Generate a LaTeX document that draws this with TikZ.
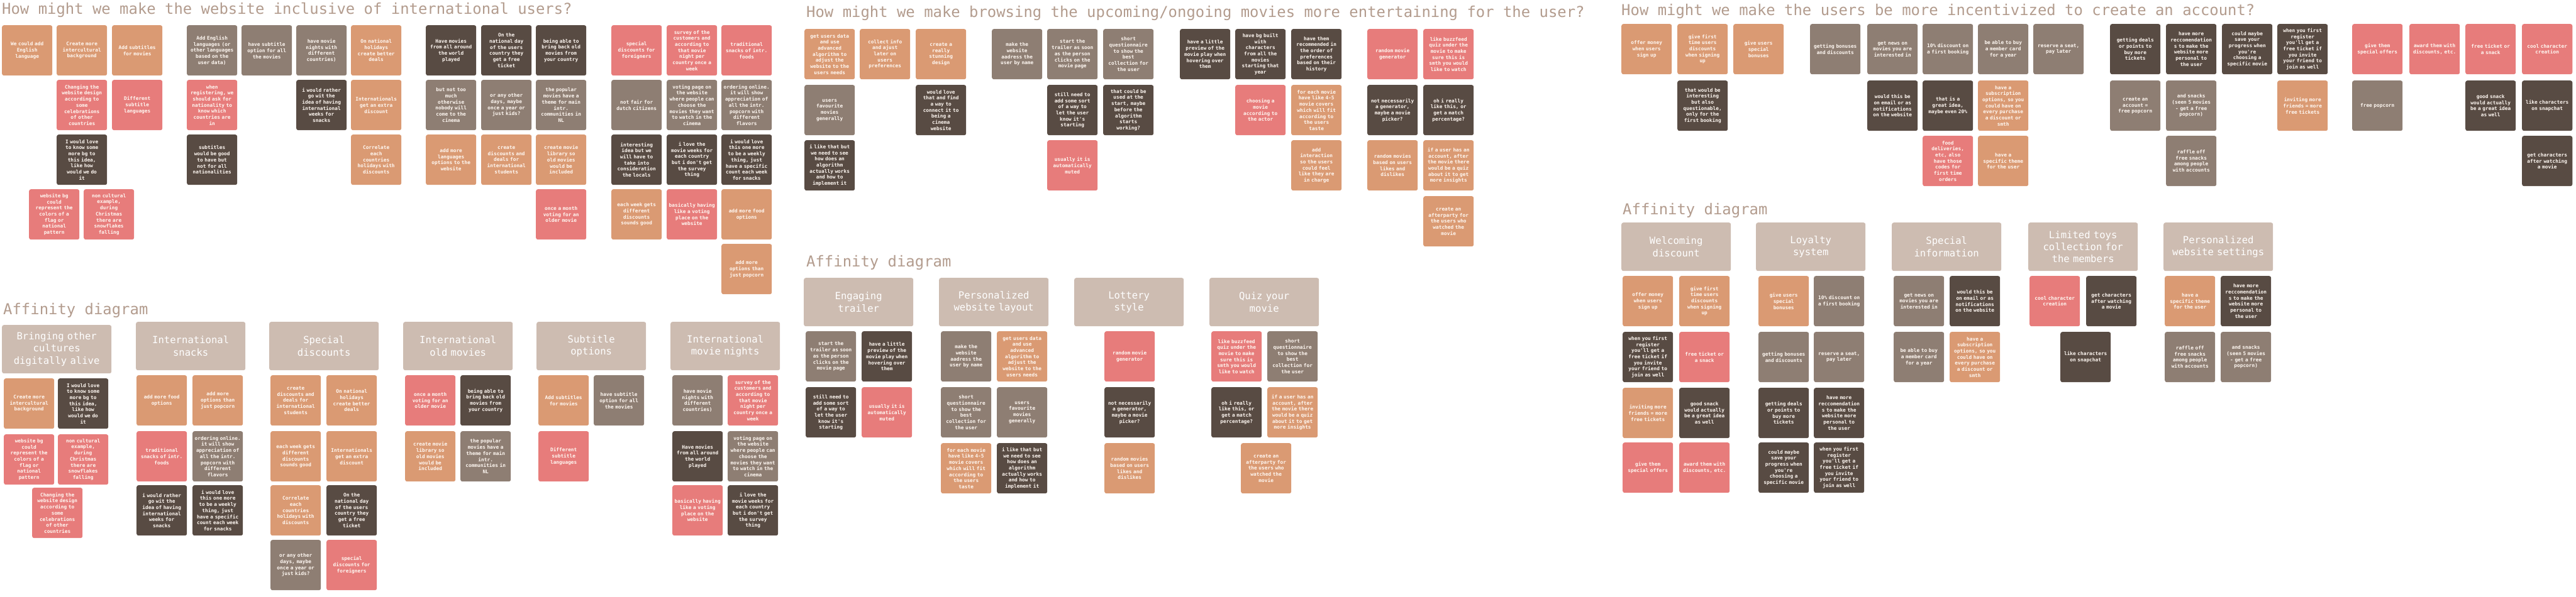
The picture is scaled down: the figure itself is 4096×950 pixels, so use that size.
\documentclass[tikz,border=0pt]{standalone}
\usepackage{fontspec}
\newfontfamily\notefont{DejaVu Sans Mono}

\definecolor{tancol}{HTML}{DA9A73}
\definecolor{pinkcol}{HTML}{E77C7B}
\definecolor{greycol}{HTML}{8E7E73}
\definecolor{darkcol}{HTML}{584B43}
\definecolor{boxcol}{HTML}{CDBCB1}
\definecolor{titlecol}{HTML}{B39C8E}
\definecolor{notetext}{HTML}{FFF8F2}

\tikzset{
  note/.style={anchor=north west, minimum width=80pt, minimum height=80pt,
    text width=78pt, inner sep=1pt, rounded corners=3pt, align=center,
    text=notetext, font=\notefont\bfseries\fontsize{7.8}{9.7}\selectfont},
  tannote/.style={note, fill=tancol},
  pinknote/.style={note, fill=pinkcol},
  greynote/.style={note, fill=greycol},
  darknote/.style={note, fill=darkcol},
  groupbox/.style={anchor=north west, minimum width=174pt, minimum height=77pt,
    text width=170pt, inner sep=2pt, rounded corners=3pt, align=center,
    fill=boxcol, text=white, font=\notefont\fontsize{15.6}{19.3}\selectfont},
  boardtitle/.style={anchor=base west, inner sep=0pt, text=titlecol,
    font=\notefont\fontsize{23.9}{28}\selectfont}
}

\begin{document}
\begin{tikzpicture}[x=1pt,y=-1pt]
\fill[white] (0,0) rectangle (4096,950);
\useasboundingbox (0,0) rectangle (4096,950);

% board titles
\node[boardtitle] (t1) at (3,23) {How might we make the website inclusive of international users?};
\node[boardtitle] (t2) at (1282,28) {How might we make browsing the upcoming/ongoing movies more entertaining for the user?};
\node[boardtitle] (t3) at (2578,25) {How might we make the users be more incentivized to create an account?};
\node[boardtitle] (a1) at (5,500) {Affinity diagram};
\node[boardtitle] (a2) at (1282,424) {Affinity diagram};
\node[boardtitle] (a3) at (2580,341) {Affinity diagram};

% board 1: international users
\node[tannote] (ia1) at (3,40) {We could add\\English\\language};
\node[tannote] (ib1) at (90,40) {Create more\\intercultural\\background};
\node[pinknote] (ib2) at (90,127) {Changing the\\website design\\according to\\some\\celebrations\\of other\\countries};
\node[darknote] (ib3) at (90,214) {I would love\\to know some\\more bg to\\this idea,\\like how\\would we do\\it};
\node[tannote] (ic1) at (178,40) {Add subtitles\\for movies};
\node[pinknote] (ic2) at (178,127) {Different\\subtitle\\languages};
\node[pinknote] (ix1) at (46,301) {website bg\\could\\represent the\\colors of a\\flag or\\national\\pattern};
\node[pinknote] (ix2) at (133,301) {non cultural\\example,\\during\\Christmas\\there are\\snowflakes\\falling};
\node[greynote] (id1) at (297,40) {Add English\\languages (or\\other languages\\based on the\\user data)};
\node[pinknote] (id2) at (297,127) {when\\registering, we\\should ask for\\nationality to\\know which\\countries are\\in};
\node[darknote] (id3) at (297,214) {subtitles\\would be good\\to have but\\not for all\\nationalities};
\node[greynote] (ie1) at (384,40) {have subtitle\\option for all\\the movies};
\node[greynote] (if1) at (471,40) {have movie\\nights with\\different\\countries)};
\node[darknote] (if2) at (471,127) {i would rather\\go wit the\\idea of having\\international\\weeks for\\snacks};
\node[tannote] (ig1) at (558,40) {On national\\holidays\\create better\\deals};
\node[tannote] (ig2) at (558,127) {Internationals\\get an extra\\discount};
\node[tannote] (ig3) at (558,214) {Correlate\\each\\countries\\holidays with\\discounts};
\node[darknote] (ih1) at (677,40) {Have movies\\from all around\\the world\\played};
\node[greynote] (ih2) at (677,127) {but not too\\much\\otherwise\\nobody will\\come to the\\cinema};
\node[tannote] (ih3) at (677,214) {add more\\languages\\options to the\\website};
\node[darknote] (ii1) at (765,40) {On the\\national day\\of the users\\country they\\get a free\\ticket};
\node[greynote] (ii2) at (765,127) {or any other\\days, maybe\\once a year or\\just kids?};
\node[tannote] (ii3) at (765,214) {create\\discounts and\\deals for\\international\\students};
\node[darknote] (ij1) at (852,40) {being able to\\bring back old\\movies from\\your country};
\node[greynote] (ij2) at (852,127) {the popular\\movies have a\\theme for main\\intr.\\communities in\\NL};
\node[tannote] (ij3) at (852,214) {create movie\\library so\\old movies\\would be\\included};
\node[pinknote] (ij4) at (852,301) {once a month\\voting for an\\older movie};
\node[pinknote] (ik1) at (972,40) {special\\discounts for\\foreigners};
\node[greynote] (ik2) at (972,127) {not fair for\\dutch citizens};
\node[darknote] (ik3) at (972,214) {interesting\\idea but we\\will have to\\take into\\consideration\\the locals};
\node[tannote] (ik4) at (972,301) {each week gets\\different\\discounts\\sounds good};
\node[pinknote] (il1) at (1060,40) {survey of the\\customers and\\according to\\that movie\\night per\\country once a\\week};
\node[greynote] (il2) at (1060,127) {voting page on\\the website\\where people can\\choose the\\movies they want\\to watch in the\\cinema};
\node[darknote] (il3) at (1060,214) {i love the\\movie weeks for\\each country\\but i don't get\\the survey\\thing};
\node[pinknote] (il4) at (1060,301) {basically having\\like a voting\\place on the\\website};
\node[pinknote] (im1) at (1147,40) {traditional\\snacks of intr.\\foods};
\node[greynote] (im2) at (1147,127) {ordering online.\\it will show\\appreciation of\\all the intr.\\popcorn with\\different\\flavors};
\node[darknote] (im3) at (1147,214) {i would love\\this one more\\to be a weekly\\thing, just\\have a specific\\count each week\\for snacks};
\node[tannote] (im4) at (1147,301) {add more food\\options};
\node[tannote] (im5) at (1147,388) {add more\\options than\\just popcorn};

% board 2: entertaining browsing
\node[tannote] (ea1) at (1279,46) {get users data\\and use\\advanced\\algorithm to\\adjust the\\website to the\\users needs};
\node[greynote] (ea2) at (1279,135) {users\\favourite\\movies\\generally};
\node[darknote] (ea3) at (1279,223) {i like that but\\we need to see\\how does an\\algorithm\\actually works\\and how to\\implement it};
\node[tannote] (eb1) at (1367,46) {collect info\\and ajust\\later on\\users\\preferences};
\node[tannote] (ec1) at (1456,46) {create a\\really\\stunning\\design};
\node[darknote] (ec2) at (1456,135) {would love\\that and find\\a way to\\connect it to\\being a\\cinema\\website};
\node[greynote] (ed1) at (1577,46) {make the\\website\\aadress the\\user by name};
\node[greynote] (ee1) at (1665,46) {start the\\trailer as soon\\as the person\\clicks on the\\movie page};
\node[darknote] (ee2) at (1665,135) {still need to\\add some sort\\of a way to\\let the user\\know it's\\starting};
\node[pinknote] (ee3) at (1665,223) {usually it is\\automatically\\muted};
\node[greynote] (ef1) at (1754,46) {short\\questionnaire\\to show the\\best\\collection for\\the user};
\node[darknote] (ef2) at (1754,135) {that could be\\used at the\\start, maybe\\before the\\algorithm\\starts\\working?};
\node[darknote] (eg1) at (1876,46) {have a little\\preview of the\\movie play when\\hovering over\\them};
\node[darknote] (eh1) at (1964,46) {have bg built\\with\\characters\\from all the\\movies\\starting that\\year};
\node[pinknote] (eh2) at (1964,135) {choosing a\\movie\\according to\\the actor};
\node[darknote] (ei1) at (2053,46) {have them\\recommended in\\the order of\\preferences\\based on their\\history};
\node[tannote] (ei2) at (2053,135) {for each movie\\have like 4-5\\movie covers\\which will fit\\according to\\the users\\taste};
\node[tannote] (ei3) at (2053,223) {add\\interaction\\so the users\\could feel\\like they are\\in charge};
\node[pinknote] (ej1) at (2174,46) {random movie\\generator};
\node[darknote] (ej2) at (2174,135) {not necessarily\\a generator,\\maybe a movie\\picker?};
\node[tannote] (ej3) at (2174,223) {random movies\\based on users\\likes and\\dislikes};
\node[pinknote] (ek1) at (2263,46) {like buzzfeed\\quiz under the\\movie to make\\sure this is\\smth you would\\like to watch};
\node[darknote] (ek2) at (2263,135) {oh i really\\like this, or\\get a match\\percentage?};
\node[tannote] (ek3) at (2263,223) {if a user has an\\account, after\\the movie there\\would be a quiz\\about it to get\\more insights};
\node[tannote] (ek4) at (2263,312) {create an\\afterparty for\\the users who\\watched the\\movie};

% board 3: create an account
\node[tannote] (ca1) at (2578,38) {offer money\\when users\\sign up};
\node[tannote] (cb1) at (2667,38) {give first\\time users\\discounts\\when signing\\up};
\node[darknote] (cb2) at (2667,128) {that would be\\interesting\\but also\\questionable,\\only for the\\first booking};
\node[tannote] (cc1) at (2756,38) {give users\\special\\bonuses};
\node[greynote] (cd1) at (2878,38) {getting bonuses\\and discounts};
\node[greynote] (ce1) at (2969,38) {get news on\\movies you are\\interested in};
\node[darknote] (ce2) at (2969,128) {would this be\\on email or as\\notifications\\on the website};
\node[greynote] (cf1) at (3057,38) {10\% discount on\\a first booking};
\node[darknote] (cf2) at (3057,128) {that is a\\great idea,\\maybe even 20\%};
\node[pinknote] (cf3) at (3057,216) {food\\deliveries,\\etc, also\\have those\\codes for\\first time\\orders};
\node[greynote] (cg1) at (3145,38) {be able to buy\\a member card\\for a year};
\node[tannote] (cg2) at (3145,128) {have a\\subscription\\options, so you\\could have on\\every purchase\\a discount or\\smth};
\node[tannote] (cg3) at (3145,216) {have a\\specific theme\\for the user};
\node[greynote] (ch1) at (3233,38) {reserve a seat,\\pay later};
\node[darknote] (ci1) at (3355,38) {getting deals\\or points to\\buy more\\tickets};
\node[greynote] (ci2) at (3355,128) {create an\\account =\\free popcorn};
\node[darknote] (cj1) at (3444,38) {have more\\reccomendation\\s to make the\\website more\\personal to\\the user};
\node[greynote] (cj2) at (3444,128) {and snacks\\(seen 5 movies\\- get a free\\popcorn)};
\node[greynote] (cj3) at (3444,216) {raffle off\\free snacks\\among people\\with accounts};
\node[darknote] (ck1) at (3533,38) {could maybe\\save your\\progress when\\you're\\choosing a\\specific movie};
\node[darknote] (cl1) at (3621,38) {when you first\\register\\you'll get a\\free ticket if\\you invite\\your friend to\\join as well};
\node[tannote] (cl2) at (3621,128) {inviting more\\friends = more\\free tickets};
\node[pinknote] (cm1) at (3740,38) {give them\\special offers};
\node[greynote] (cm2) at (3740,128) {free popcorn};
\node[pinknote] (cn1) at (3831,38) {award them with\\discounts, etc.};
\node[pinknote] (co1) at (3920,38) {free ticket or\\a snack};
\node[darknote] (co2) at (3920,128) {good snack\\would actually\\be a great idea\\as well};
\node[pinknote] (cp1) at (4010,38) {cool character\\creation};
\node[darknote] (cp2) at (4010,128) {like characters\\on snapchat};
\node[darknote] (cp3) at (4010,216) {get characters\\after watching\\a movie};

% affinity 1
\node[groupbox] (g1) at (3,517) {Bringing other\\cultures\\digitally alive};
\node[tannote] (g1a) at (6,602) {Create more\\intercultural\\background};
\node[darknote] (g1b) at (92,602) {I would love\\to know some\\more bg to\\this idea,\\like how\\would we do\\it};
\node[pinknote] (g1c) at (6,691) {website bg\\could\\represent the\\colors of a\\flag or\\national\\pattern};
\node[pinknote] (g1d) at (92,691) {non cultural\\example,\\during\\Christmas\\there are\\snowflakes\\falling};
\node[pinknote] (g1e) at (51,776) {Changing the\\website design\\according to\\some\\celebrations\\of other\\countries};

\node[groupbox] (g2) at (216,512) {International\\snacks};
\node[tannote] (g2a) at (217,597) {add more food\\options};
\node[tannote] (g2b) at (306,597) {add more\\options than\\just popcorn};
\node[pinknote] (g2c) at (217,686) {traditional\\snacks of intr.\\foods};
\node[greynote] (g2d) at (306,686) {ordering online.\\it will show\\appreciation of\\all the intr.\\popcorn with\\different\\flavors};
\node[darknote] (g2e) at (217,772) {i would rather\\go wit the\\idea of having\\international\\weeks for\\snacks};
\node[darknote] (g2f) at (306,772) {i would love\\this one more\\to be a weekly\\thing, just\\have a specific\\count each week\\for snacks};

\node[groupbox] (g3) at (428,512) {Special\\discounts};
\node[tannote] (g3a) at (430,597) {create\\discounts and\\deals for\\international\\students};
\node[tannote] (g3b) at (519,597) {On national\\holidays\\create better\\deals};
\node[tannote] (g3c) at (430,686) {each week gets\\different\\discounts\\sounds good};
\node[tannote] (g3d) at (519,686) {Internationals\\get an extra\\discount};
\node[tannote] (g3e) at (430,772) {Correlate\\each\\countries\\holidays with\\discounts};
\node[darknote] (g3f) at (519,772) {On the\\national day\\of the users\\country they\\get a free\\ticket};
\node[greynote] (g3g) at (430,859) {or any other\\days, maybe\\once a year or\\just kids?};
\node[pinknote] (g3h) at (519,859) {special\\discounts for\\foreigners};

\node[groupbox] (g4) at (641,512) {International\\old movies};
\node[pinknote] (g4a) at (644,597) {once a month\\voting for an\\older movie};
\node[darknote] (g4b) at (732,597) {being able to\\bring back old\\movies from\\your country};
\node[tannote] (g4c) at (644,686) {create movie\\library so\\old movies\\would be\\included};
\node[greynote] (g4d) at (732,686) {the popular\\movies have a\\theme for main\\intr.\\communities in\\NL};

\node[groupbox] (g5) at (853,512) {Subtitle\\options};
\node[tannote] (g5a) at (856,597) {Add subtitles\\for movies};
\node[greynote] (g5b) at (944,597) {have subtitle\\option for all\\the movies};
\node[pinknote] (g5c) at (856,686) {Different\\subtitle\\languages};

\node[groupbox] (g6) at (1066,512) {International\\movie nights};
\node[greynote] (g6a) at (1069,597) {have movie\\nights with\\different\\countries)};
\node[pinknote] (g6b) at (1157,597) {survey of the\\customers and\\according to\\that movie\\night per\\country once a\\week};
\node[darknote] (g6c) at (1069,686) {Have movies\\from all around\\the world\\played};
\node[greynote] (g6d) at (1157,686) {voting page on\\the website\\where people can\\choose the\\movies they want\\to watch in the\\cinema};
\node[pinknote] (g6e) at (1069,772) {basically having\\like a voting\\place on the\\website};
\node[darknote] (g6f) at (1157,772) {i love the\\movie weeks for\\each country\\but i don't get\\the survey\\thing};

% affinity 2
\node[groupbox] (h1) at (1278,442) {Engaging\\trailer};
\node[greynote] (h1a) at (1281,527) {start the\\trailer as soon\\as the person\\clicks on the\\movie page};
\node[darknote] (h1b) at (1370,527) {have a little\\preview of the\\movie play when\\hovering over\\them};
\node[darknote] (h1c) at (1281,616) {still need to\\add some sort\\of a way to\\let the user\\know it's\\starting};
\node[pinknote] (h1d) at (1370,616) {usually it is\\automatically\\muted};

\node[groupbox] (h2) at (1493,442) {Personalized\\website layout};
\node[greynote] (h2a) at (1496,527) {make the\\website\\aadress the\\user by name};
\node[tannote] (h2b) at (1585,527) {get users data\\and use\\advanced\\algorithm to\\adjust the\\website to the\\users needs};
\node[greynote] (h2c) at (1496,616) {short\\questionnaire\\to show the\\best\\collection for\\the user};
\node[greynote] (h2d) at (1585,616) {users\\favourite\\movies\\generally};
\node[tannote] (h2e) at (1496,705) {for each movie\\have like 4-5\\movie covers\\which will fit\\according to\\the users\\taste};
\node[darknote] (h2f) at (1585,705) {i like that but\\we need to see\\how does an\\algorithm\\actually works\\and how to\\implement it};

\node[groupbox] (h3) at (1708,442) {Lottery\\style};
\node[pinknote] (h3a) at (1756,527) {random movie\\generator};
\node[darknote] (h3b) at (1756,616) {not necessarily\\a generator,\\maybe a movie\\picker?};
\node[tannote] (h3c) at (1756,705) {random movies\\based on users\\likes and\\dislikes};

\node[groupbox] (h4) at (1923,442) {Quiz your\\movie};
\node[pinknote] (h4a) at (1926,527) {like buzzfeed\\quiz under the\\movie to make\\sure this is\\smth you would\\like to watch};
\node[greynote] (h4b) at (2015,527) {short\\questionnaire\\to show the\\best\\collection for\\the user};
\node[darknote] (h4c) at (1926,616) {oh i really\\like this, or\\get a match\\percentage?};
\node[tannote] (h4d) at (2015,616) {if a user has an\\account, after\\the movie there\\would be a quiz\\about it to get\\more insights};
\node[tannote] (h4e) at (1973,705) {create an\\afterparty for\\the users who\\watched the\\movie};

% affinity 3
\node[groupbox] (k1) at (2578,354) {Welcoming\\discount};
\node[tannote] (k1a) at (2580,439) {offer money\\when users\\sign up};
\node[tannote] (k1b) at (2670,439) {give first\\time users\\discounts\\when signing\\up};
\node[darknote] (k1c) at (2580,528) {when you first\\register\\you'll get a\\free ticket if\\you invite\\your friend to\\join as well};
\node[pinknote] (k1d) at (2670,528) {free ticket or\\a snack};
\node[tannote] (k1e) at (2580,617) {inviting more\\friends = more\\free tickets};
\node[darknote] (k1f) at (2670,617) {good snack\\would actually\\be a great idea\\as well};
\node[pinknote] (k1g) at (2580,704) {give them\\special offers};
\node[pinknote] (k1h) at (2670,704) {award them with\\discounts, etc.};

\node[groupbox] (k2) at (2792,354) {Loyalty\\system};
\node[tannote] (k2a) at (2796,439) {give users\\special\\bonuses};
\node[greynote] (k2b) at (2884,439) {10\% discount on\\a first booking};
\node[greynote] (k2c) at (2796,528) {getting bonuses\\and discounts};
\node[greynote] (k2d) at (2884,528) {reserve a seat,\\pay later};
\node[darknote] (k2e) at (2796,617) {getting deals\\or points to\\buy more\\tickets};
\node[darknote] (k2f) at (2884,617) {have more\\reccomendation\\s to make the\\website more\\personal to\\the user};
\node[darknote] (k2g) at (2796,704) {could maybe\\save your\\progress when\\you're\\choosing a\\specific movie};
\node[darknote] (k2h) at (2884,704) {when you first\\register\\you'll get a\\free ticket if\\you invite\\your friend to\\join as well};

\node[groupbox] (k3) at (3008,354) {Special\\information};
\node[greynote] (k3a) at (3011,439) {get news on\\movies you are\\interested in};
\node[darknote] (k3b) at (3100,439) {would this be\\on email or as\\notifications\\on the website};
\node[greynote] (k3c) at (3011,528) {be able to buy\\a member card\\for a year};
\node[tannote] (k3d) at (3100,528) {have a\\subscription\\options, so you\\could have on\\every purchase\\a discount or\\smth};

\node[groupbox] (k4) at (3225,354) {Limited toys\\collection for\\the members};
\node[pinknote] (k4a) at (3227,439) {cool character\\creation};
\node[darknote] (k4b) at (3317,439) {get characters\\after watching\\a movie};
\node[darknote] (k4c) at (3276,528) {like characters\\on snapchat};

\node[groupbox] (k5) at (3440,354) {Personalized\\website settings};
\node[tannote] (k5a) at (3442,439) {have a\\specific theme\\for the user};
\node[darknote] (k5b) at (3531,439) {have more\\reccomendation\\s to make the\\website more\\personal to\\the user};
\node[greynote] (k5c) at (3442,528) {raffle off\\free snacks\\among people\\with accounts};
\node[greynote] (k5d) at (3531,528) {and snacks\\(seen 5 movies\\- get a free\\popcorn)};
\end{tikzpicture}
\end{document}
